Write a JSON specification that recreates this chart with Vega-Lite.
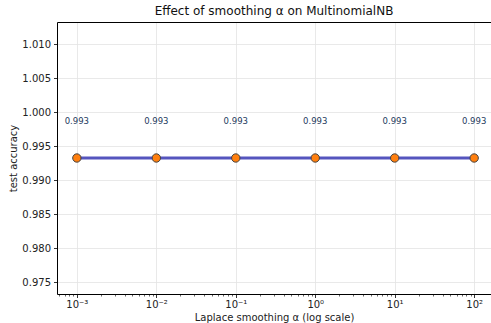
{
  "$schema": "https://vega.github.io/schema/vega-lite/v6.json",
  "autosize": {"type": "none"},
  "padding": {"left": 57, "top": 22, "right": 0, "bottom": 29},
  "width": 434,
  "height": 272,
  "config": {
    "font": "DejaVu Sans",
    "view": {"stroke": null},
    "axis": {
      "labelFont": "DejaVu Sans",
      "titleFont": "DejaVu Sans",
      "labelColor": "#222222",
      "titleColor": "#222222",
      "titleFontWeight": "normal",
      "domainColor": "#000000",
      "tickColor": "#000000",
      "labelFontSize": 10,
      "titleFontSize": 10
    }
  },
  "title": {
    "text": "Effect of smoothing α on MultinomialNB",
    "fontSize": 12,
    "fontWeight": "normal",
    "color": "#111111",
    "anchor": "middle",
    "offset": 4
  },
  "data": {
    "values": [
      {"alpha": 0.001, "acc": 0.9933, "label": "0.993"},
      {"alpha": 0.01, "acc": 0.9933, "label": "0.993"},
      {"alpha": 0.1, "acc": 0.9933, "label": "0.993"},
      {"alpha": 1, "acc": 0.9933, "label": "0.993"},
      {"alpha": 10, "acc": 0.9933, "label": "0.993"},
      {"alpha": 100, "acc": 0.9933, "label": "0.993"}
    ]
  },
  "resolve": {"axis": {"x": "independent", "y": "independent"}},
  "layer": [
    {
      "mark": {"type": "line", "color": "#4c4cba", "strokeWidth": 3, "opacity": 0.95},
      "encoding": {
        "x": {
          "field": "alpha",
          "type": "quantitative",
          "scale": {"type": "log", "domain": [0.0005623, 162.9], "nice": false},
          "axis": {
            "orient": "bottom",
            "values": [0.001, 0.01, 0.1, 1, 10, 100],
            "labelExpr": "datum.value < 0.005 ? '10⁻³' : datum.value < 0.05 ? '10⁻²' : datum.value < 0.5 ? '10⁻¹' : datum.value < 5 ? '10⁰' : datum.value < 50 ? '10¹' : '10²'",
            "grid": true,
            "gridColor": "#e3e3e3",
            "gridWidth": 0.8,
            "tickSize": 3.5,
            "tickWidth": 0.8,
            "domainWidth": 1,
            "labelPadding": 2,
            "title": "Laplace smoothing α (log scale)",
            "titlePadding": 3
          }
        },
        "y": {
          "field": "acc",
          "type": "quantitative",
          "scale": {"domain": [0.9733, 1.0133], "nice": false, "zero": false},
          "axis": {
            "orient": "left",
            "values": [0.975, 0.98, 0.985, 0.99, 0.995, 1.0, 1.005, 1.01],
            "format": ".3f",
            "grid": true,
            "gridColor": "#e3e3e3",
            "gridWidth": 0.8,
            "tickSize": 3.5,
            "tickWidth": 0.8,
            "domainWidth": 1,
            "labelPadding": 3,
            "title": "test accuracy",
            "titlePadding": 3
          }
        }
      }
    },
    {
      "mark": {"type": "point", "filled": true, "fill": "#ff7f0e", "stroke": "#444444", "strokeWidth": 1, "size": 70, "opacity": 1},
      "encoding": {
        "x": {
          "field": "alpha",
          "type": "quantitative",
          "axis": {
            "orient": "bottom",
            "values": [0.0006, 0.0007, 0.0008, 0.0009, 0.002, 0.003, 0.004, 0.005, 0.006, 0.007, 0.008, 0.009, 0.02, 0.03, 0.04, 0.05, 0.06, 0.07, 0.08, 0.09, 0.2, 0.3, 0.4, 0.5, 0.6, 0.7, 0.8, 0.9, 2, 3, 4, 5, 6, 7, 8, 9, 20, 30, 40, 50, 60, 70, 80, 90],
            "labels": false,
            "grid": false,
            "domain": false,
            "tickSize": 2,
            "tickWidth": 0.6,
            "title": null
          }
        },
        "y": {"field": "acc", "type": "quantitative", "axis": null}
      }
    },
    {
      "mark": {"type": "text", "fontSize": 8.5, "color": "#243a5e", "baseline": "middle", "align": "center", "dy": -37},
      "encoding": {
        "x": {
          "field": "alpha",
          "type": "quantitative",
          "axis": {
            "orient": "top",
            "domain": true,
            "domainWidth": 1,
            "ticks": false,
            "labels": false,
            "grid": false,
            "title": null
          }
        },
        "y": {"field": "acc", "type": "quantitative", "axis": null},
        "text": {"field": "label"}
      }
    }
  ]
}
